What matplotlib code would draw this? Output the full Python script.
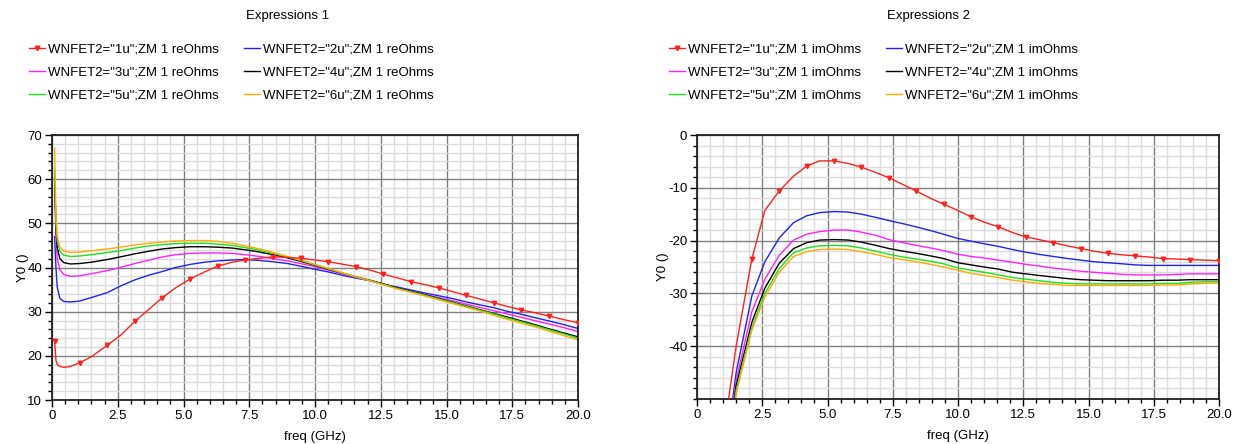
import matplotlib
matplotlib.use("Agg")
import matplotlib.pyplot as plt
from matplotlib.ticker import MultipleLocator, FixedLocator

plt.rcParams['font.family'] = ['Liberation Sans', 'DejaVu Sans']

# ---------------- data ----------------
freq = [0.1, 0.15, 0.2, 0.3, 0.45, 0.7, 1.05, 1.5, 2.1, 2.6, 3.15, 3.7, 4.2, 4.7,
        5.25, 5.8, 6.3, 6.85, 7.35, 7.9, 8.4, 8.95, 9.45, 10.0, 10.5, 11.0, 11.55,
        12.1, 12.6, 13.1, 13.65, 14.2, 14.7, 15.2, 15.75, 16.3, 16.8, 17.3, 17.85,
        18.4, 18.9, 19.45, 20.0]

series_labels = ['1u', '2u', '3u', '4u', '5u', '6u']
series_colors = ['#ff2020', '#2020ff', '#ff20ff', '#000000', '#20e020', '#ffaa00']

re_1u = [23.4, 19.0, 18.0, 17.6, 17.4, 17.6, 18.4, 19.8, 22.4, 24.6, 27.8, 30.6, 33.2, 35.4,
         37.4, 39.0, 40.3, 41.2, 41.7, 42.1, 42.4, 42.3, 42.1, 41.7, 41.3, 40.8, 40.2,
         39.4, 38.5, 37.7, 36.8, 36.1, 35.4, 34.6, 33.7, 32.8, 32.0, 31.2, 30.4,
         29.7, 29.0, 28.2, 27.5]
re_2u = [47.0, 40.0, 35.5, 33.0, 32.3, 32.2, 32.4, 33.2, 34.3, 35.8, 37.2, 38.3, 39.1, 40.0,
         40.7, 41.2, 41.5, 41.7, 41.8, 41.6, 41.3, 40.9, 40.3, 39.6, 39.0, 38.3, 37.6,
         37.0, 36.2, 35.6, 34.9, 34.2, 33.6, 33.0, 32.2, 31.5, 30.9, 30.1, 29.4,
         28.6, 27.9, 27.1, 26.2]
re_3u = [58.0, 47.0, 42.0, 39.5, 38.4, 38.0, 38.1, 38.6, 39.3, 40.0, 40.9, 41.7, 42.4, 42.9,
         43.2, 43.3, 43.3, 43.2, 42.9, 42.5, 42.0, 41.5, 40.9, 40.2, 39.4, 38.6, 37.8,
         37.0, 36.2, 35.4, 34.6, 33.9, 33.2, 32.5, 31.7, 30.9, 30.2, 29.5, 28.7,
         27.9, 27.2, 26.4, 25.5]
re_4u = [60.5, 49.0, 44.5, 42.0, 41.1, 40.8, 40.9, 41.2, 41.8, 42.4, 43.1, 43.7, 44.2, 44.5,
         44.7, 44.7, 44.6, 44.4, 44.0, 43.5, 42.9, 42.2, 41.4, 40.5, 39.6, 38.8, 37.9,
         37.1, 36.3, 35.4, 34.6, 33.8, 33.0, 32.2, 31.3, 30.4, 29.6, 28.8, 27.9,
         27.0, 26.1, 25.2, 24.3]
re_5u = [62.0, 50.0, 46.0, 43.7, 42.8, 42.5, 42.6, 42.9, 43.4, 43.8, 44.4, 44.9, 45.2, 45.4,
         45.5, 45.5, 45.3, 45.0, 44.5, 43.9, 43.2, 42.4, 41.6, 40.6, 39.7, 38.8, 37.9,
         37.0, 36.2, 35.3, 34.5, 33.7, 32.9, 32.1, 31.2, 30.3, 29.5, 28.6, 27.7,
         26.8, 25.9, 25.0, 24.0]
re_6u = [67.0, 52.0, 47.0, 44.6, 43.7, 43.4, 43.5, 43.8, 44.2, 44.6, 45.1, 45.5, 45.8, 46.0,
         46.1, 46.1, 45.9, 45.5, 44.9, 44.2, 43.4, 42.5, 41.7, 40.7, 39.8, 38.9, 37.9,
         37.0, 36.1, 35.2, 34.4, 33.5, 32.7, 31.9, 31.0, 30.1, 29.2, 28.3, 27.4,
         26.5, 25.6, 24.6, 23.6]

im_1u = [-800.0, -530.0, -400.0, -265.0, -175.0, -105.0, -55.5, -40.0, -23.5, -14.3, -10.6, -7.8, -5.9, -4.9,
         -4.9, -5.4, -6.1, -7.1, -8.1, -9.4, -10.6, -12.0, -13.1, -14.3, -15.5, -16.5, -17.4,
         -18.5, -19.3, -19.8, -20.4, -21.0, -21.5, -22.0, -22.4, -22.7, -22.9, -23.1, -23.4,
         -23.5, -23.6, -23.7, -23.8]
im_2u = [-850.0, -570.0, -430.0, -285.0, -190.0, -118.0, -62.0, -45.0, -30.5, -24.0, -19.5, -16.6, -15.3, -14.7,
         -14.5, -14.6, -15.0, -15.6, -16.2, -16.8, -17.4, -18.1, -18.8, -19.6, -20.1, -20.6, -21.1,
         -21.7, -22.2, -22.6, -23.0, -23.4, -23.7, -24.0, -24.2, -24.4, -24.6, -24.7, -24.7,
         -24.7, -24.7, -24.7, -24.7]
im_3u = [-870.0, -580.0, -440.0, -290.0, -195.0, -121.0, -64.0, -46.5, -33.5, -27.3, -22.8, -19.9, -18.8, -18.3,
         -18.0, -18.0, -18.4, -19.0, -19.8, -20.4, -20.9, -21.4, -21.9, -22.6, -23.0, -23.3, -23.7,
         -24.1, -24.5, -24.8, -25.2, -25.5, -25.8, -26.0, -26.2, -26.4, -26.5, -26.5, -26.5,
         -26.4, -26.3, -26.3, -26.3]
im_4u = [-880.0, -590.0, -445.0, -295.0, -198.0, -123.0, -65.0, -47.5, -35.5, -29.0, -24.3, -21.5, -20.4, -19.9,
         -19.8, -19.9, -20.3, -20.9, -21.5, -22.0, -22.4, -22.9, -23.4, -24.2, -24.6, -25.0, -25.4,
         -26.0, -26.3, -26.6, -26.9, -27.2, -27.4, -27.5, -27.6, -27.6, -27.6, -27.6, -27.5,
         -27.5, -27.4, -27.4, -27.4]
im_5u = [-890.0, -595.0, -450.0, -298.0, -200.0, -125.0, -66.0, -48.3, -36.5, -30.0, -25.3, -22.3, -21.4, -21.0,
         -20.9, -21.0, -21.4, -22.0, -22.6, -23.1, -23.5, -23.9, -24.4, -25.2, -25.6, -26.0, -26.5,
         -27.0, -27.3, -27.6, -27.9, -28.1, -28.2, -28.2, -28.2, -28.2, -28.2, -28.2, -28.1,
         -28.1, -27.9, -27.8, -27.8]
im_6u = [-900.0, -600.0, -455.0, -300.0, -202.0, -127.0, -67.0, -49.0, -37.0, -30.7, -26.0, -23.0, -22.1, -21.7,
         -21.6, -21.7, -22.1, -22.6, -23.2, -23.6, -24.0, -24.5, -25.0, -25.6, -26.2, -26.6, -27.0,
         -27.5, -27.8, -28.1, -28.3, -28.5, -28.5, -28.5, -28.5, -28.5, -28.5, -28.5, -28.4,
         -28.4, -28.2, -28.1, -28.0]

x_ticks = [0, 2.5, 5.0, 7.5, 10.0, 12.5, 15.0, 17.5, 20.0]
x_ticklabels = ['0', '2.5', '5.0', '7.5', '10.0', '12.5', '15.0', '17.5', '20.0']
re_yticks = [10, 20, 30, 40, 50, 60, 70]
im_yticks = [-40, -30, -20, -10, 0]

re_data = [re_1u, re_2u, re_3u, re_4u, re_5u, re_6u]
im_data = [im_1u, im_2u, im_3u, im_4u, im_5u, im_6u]

marker_idx = [0] + list(range(6, len(freq), 2))

# ---------------- figure ----------------
W, H = 1246, 444
fig = plt.figure(figsize=(W / 100, H / 100), dpi=100)


def make_axes(x0, x1, y0, y1):
    return fig.add_axes([x0 / W, 1 - y1 / H, (x1 - x0) / W, (y1 - y0) / H])


ax1 = make_axes(52, 578, 135, 400)
ax2 = make_axes(697, 1219, 135, 399)

FS = 9.5


def style(ax, ylim, yticks, ylabels):
    ax.set_xlim(0, 20)
    ax.set_ylim(*ylim)
    ax.xaxis.set_major_locator(FixedLocator(x_ticks))
    ax.set_xticklabels(x_ticklabels)
    ax.xaxis.set_minor_locator(MultipleLocator(0.5))
    ax.yaxis.set_major_locator(FixedLocator(yticks))
    ax.set_yticklabels(ylabels)
    ax.yaxis.set_minor_locator(MultipleLocator(2))
    ax.grid(which='minor', color='#dcdcdc', linewidth=1.0, zorder=0)
    ax.grid(which='major', color='#808080', linewidth=1.0, zorder=0.5)
    ax.set_axisbelow(True)
    ax.tick_params(which='major', length=5, width=1, labelsize=FS, pad=2, color='black')
    ax.tick_params(which='minor', length=3, width=1, color='black')
    for s in ax.spines.values():
        s.set_linewidth(1.3)
        s.set_color('#202020')
    ax.set_xlabel('freq (GHz)', fontsize=FS, labelpad=7)
    ax.set_ylabel('Y0 ()', fontsize=FS, labelpad=-1)


def draw(ax, data, kind):
    handles = []
    for i, (lab, col, ys) in enumerate(zip(series_labels, series_colors, data)):
        label = 'WNFET2="%s";ZM 1 %sOhms' % (lab, kind)
        if i == 0:
            h, = ax.plot(freq, ys, color=col, lw=1.0, marker='v', ms=3.2,
                         markevery=marker_idx, label=label, zorder=3)
        else:
            h, = ax.plot(freq, ys, color=col, lw=1.0, label=label, zorder=2 + 0.1 * i)
        handles.append(h)
    return handles


h1 = draw(ax1, re_data, 're')
style(ax1, (10, 70), re_yticks, [str(v) for v in re_yticks])
h2 = draw(ax2, im_data, 'im')
style(ax2, (-50, 0), im_yticks, [str(v) for v in im_yticks])

order = [0, 2, 4, 1, 3, 5]


def legend(handles, x, y):
    leg = fig.legend([handles[i] for i in order], [handles[i].get_label() for i in order],
                     ncol=2, loc='upper left', bbox_to_anchor=(x / W, 1 - y / H),
                     frameon=False, fontsize=FS, handlelength=1.2, handletextpad=0.25,
                     columnspacing=1.9, labelspacing=0.82, borderpad=0, borderaxespad=0)
    return leg


legend(h1, 29, 43)
legend(h2, 669, 43)

fig.text(288 / W, 1 - 16 / H, 'Expressions 1', ha='center', va='center', fontsize=FS)
fig.text(929 / W, 1 - 16 / H, 'Expressions 2', ha='center', va='center', fontsize=FS)

fig.savefig('out.png', dpi=100)
